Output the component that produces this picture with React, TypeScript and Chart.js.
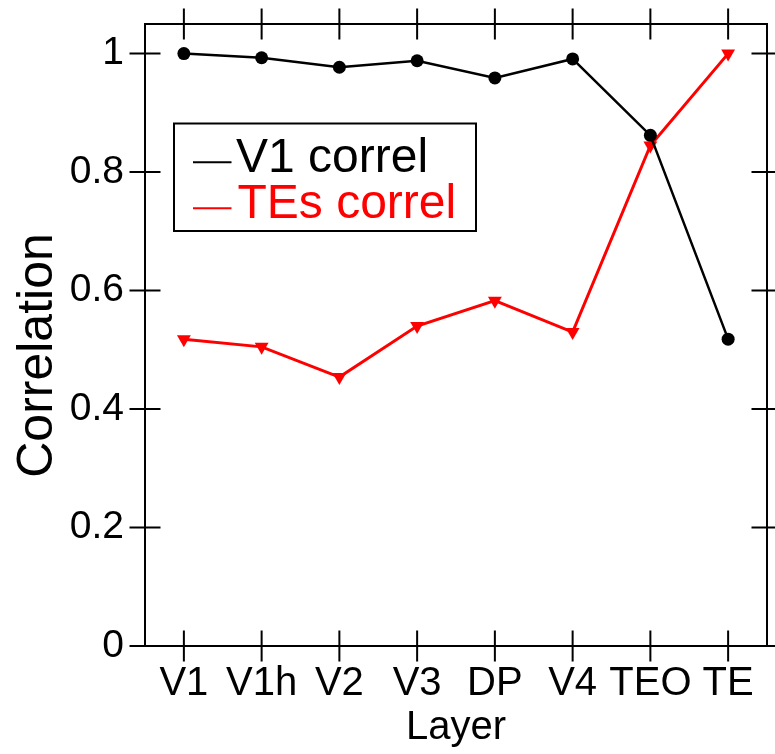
import React, { useEffect, useRef } from "react";
import { Chart, registerables } from "chart.js";

Chart.register(...registerables);

const layers = ["V1", "V1h", "V2", "V3", "DP", "V4", "TEO", "TE"];
const v1Correl = [1.0, 0.993, 0.977, 0.988, 0.959, 0.991, 0.862, 0.518];
const tesCorrel = [0.518, 0.505, 0.454, 0.54, 0.583, 0.53, 0.845, 1.0];
const yTicks = [0, 0.2, 0.4, 0.6, 0.8, 1];
const yTickLabels = ["0", "0.2", "0.4", "0.6", "0.8", "1"];
const seriesNames = ["V1 correl", "TEs correl"];
const seriesColors = ["#000000", "#ff0000"];

const FONT = "'Liberation Sans', Arial, Helvetica, sans-serif";

const framePlugin = {
  id: "frameTicks",
  beforeDatasetsDraw(chart: any) {
    const { ctx, chartArea } = chart;
    const { left, right, top, bottom } = chartArea;
    const xs = chart.scales.x;
    const ys = chart.scales.y;
    ctx.save();
    ctx.strokeStyle = "#000";
    ctx.lineWidth = 2;
    ctx.strokeRect(left, top, right - left, bottom - top);
    const L = 15.5;
    ctx.beginPath();
    xs.ticks.forEach((_t: any, i: number) => {
      const px = xs.getPixelForTick(i);
      ctx.moveTo(px, top - L);
      ctx.lineTo(px, top + L);
      ctx.moveTo(px, bottom - L);
      ctx.lineTo(px, bottom + L);
    });
    ys.ticks.forEach((_t: any, i: number) => {
      const py = ys.getPixelForTick(i);
      ctx.moveTo(left - L, py);
      ctx.lineTo(left + L, py);
      ctx.moveTo(right - L, py);
      ctx.lineTo(right + L, py);
    });
    ctx.stroke();
    // y axis title
    ctx.fillStyle = "#000";
    ctx.font = `50px ${FONT}`;
    ctx.textAlign = "center";
    ctx.textBaseline = "alphabetic";
    ctx.translate(51.5, 355.5);
    ctx.rotate(-Math.PI / 2);
    ctx.fillText("Correlation", 0, 0);
    ctx.restore();
  },
  afterDatasetsDraw(chart: any) {
    const { ctx } = chart;
    ctx.save();
    ctx.strokeStyle = "#000";
    ctx.lineWidth = 2;
    ctx.strokeRect(174, 123.5, 302, 107.5);
    const baselines = [172.3, 218.3];
    const textX = [236, 237.5];
    seriesNames.forEach((name, i) => {
      ctx.strokeStyle = seriesColors[i];
      ctx.lineWidth = 2;
      ctx.beginPath();
      ctx.moveTo(193, baselines[i] - 10);
      ctx.lineTo(231.5, baselines[i] - 10);
      ctx.stroke();
      ctx.fillStyle = seriesColors[i];
      ctx.font = `48px ${FONT}`;
      ctx.textAlign = "left";
      ctx.textBaseline = "alphabetic";
      ctx.fillText(name, textX[i], baselines[i]);
    });
    ctx.restore();
  },
};

const zeroPad = (s: any) => {
  s.paddingTop = 0;
  s.paddingBottom = 0;
  s.paddingLeft = 0;
  s.paddingRight = 0;
};

export default function App() {
  const ref = useRef<HTMLCanvasElement | null>(null);
  useEffect(() => {
    if (!ref.current) return;
    const chart = new Chart(ref.current, {
      type: "line",
      data: {
        labels: layers,
        datasets: [
          {
            label: seriesNames[0],
            data: v1Correl,
            borderColor: seriesColors[0],
            backgroundColor: seriesColors[0],
            borderWidth: 2.5,
            pointStyle: "circle",
            pointRadius: 6.5,
            pointBorderWidth: 0,
            tension: 0,
            clip: false as any,
          },
          {
            label: seriesNames[1],
            data: tesCorrel,
            borderColor: seriesColors[1],
            backgroundColor: seriesColors[1],
            borderWidth: 3,
            pointStyle: "triangle",
            pointRotation: 180,
            pointRadius: 8,
            pointBorderWidth: 0,
            tension: 0,
            clip: false as any,
          },
        ],
      },
      options: {
        animation: false,
        responsive: false,
        devicePixelRatio: 1,
        layout: { padding: { top: 24, right: 8, left: 0, bottom: 0 } },
        plugins: {
          legend: { display: false },
          tooltip: { enabled: false },
        },
        scales: {
          x: {
            type: "category",
            offset: true,
            grid: { display: false, drawTicks: false, tickLength: 0 },
            border: { display: false },
            ticks: {
              color: "#000",
              font: { family: FONT, size: 40, lineHeight: 1 },
              padding: 17.5,
              maxRotation: 0,
              autoSkip: false,
            },
            title: {
              display: true,
              text: "Layer",
              color: "#000",
              font: { family: FONT, size: 40, lineHeight: 1 },
              padding: { top: 0, bottom: 6 },
            },
            afterFit: (s: any) => {
              s.height = 108;
              zeroPad(s);
            },
          },
          y: {
            type: "linear",
            min: 0,
            max: 1.05,
            grid: { display: false, drawTicks: false, tickLength: 0 },
            border: { display: false },
            afterBuildTicks: (s: any) => {
              s.ticks = yTicks.map((v) => ({ value: v }));
            },
            ticks: {
              color: "#000",
              font: { family: FONT, size: 39, lineHeight: 1 },
              padding: 21,
              callback: (v: any) => {
                const i = yTicks.indexOf(Number(v));
                return i >= 0 ? yTickLabels[i] : "";
              },
            },
            afterFit: (s: any) => {
              s.width = 145;
              zeroPad(s);
            },
          },
        },
      },
      plugins: [framePlugin],
    });
    return () => chart.destroy();
  }, []);
  return (
    <div style={{ position: "fixed", left: 0, top: 0, width: 775, height: 754, background: "#fff" }}>
      <canvas ref={ref} width={775} height={754} style={{ width: 775, height: 754 }} />
    </div>
  );
}
